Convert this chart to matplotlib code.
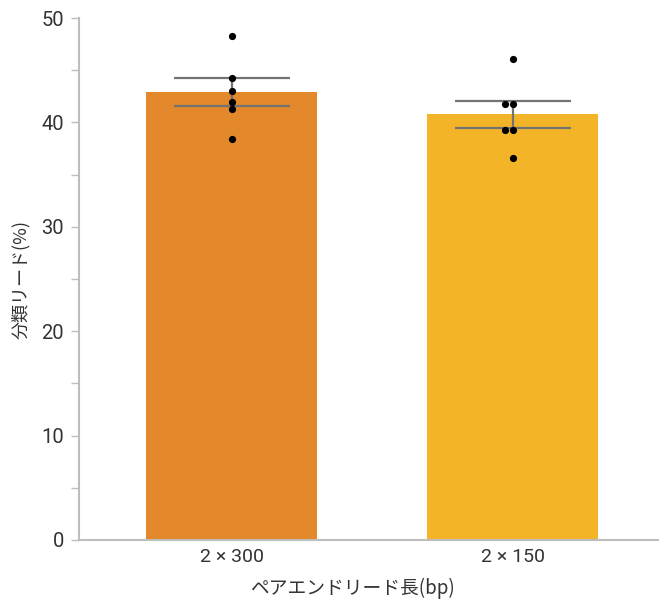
import matplotlib
matplotlib.use("Agg")
import matplotlib.pyplot as plt
from matplotlib.ticker import MultipleLocator
import numpy as np
import pandas as pd
import seaborn as sns

plt.rcParams['font.family'] = ['Noto Sans CJK JP', 'DejaVu Sans']

categories = ["2 × 300", "2 × 150"]
points_300 = [48.3, 44.3, 43.0, 42.0, 41.3, 38.4]
points_150 = [46.1, 41.75, 41.75, 39.25, 39.25, 36.6]
bar_colors = ["#E3892B", "#F3B428"]
y_label = "分類リード(%)"
x_label = "ペアエンドリード長(bp)"

series = [points_300, points_150]
means = [np.mean(s) for s in series]
sems = [np.std(s, ddof=1) / np.sqrt(len(s)) for s in series]

fig = plt.figure(figsize=(6.59, 6.03), dpi=100)
ax = fig.add_axes([0.12, 0.1045, 0.88, 0.8655])

x = np.arange(len(categories))
ax.bar(x, means, width=0.61, color=bar_colors, zorder=2)
ax.errorbar(x, means, yerr=sems, fmt='none', ecolor='#737373', elinewidth=1.6,
            capsize=41.5, capthick=1.6, zorder=3)

df = pd.DataFrame({
    "cat": np.repeat(categories, [len(s) for s in series]),
    "val": np.concatenate(series),
})
sns.swarmplot(data=df, x="cat", y="val", order=categories, color="black",
              size=5.2, ax=ax, zorder=5)

ax.set_xlim(-0.543, 1.521)
ax.set_ylim(0, 50)
ax.yaxis.set_major_locator(MultipleLocator(10))
ax.yaxis.set_minor_locator(MultipleLocator(5))
ax.set_xticks(x)
ax.set_xticklabels(categories)

tick_font = ['Roboto', 'DejaVu Sans']
for lab in ax.get_xticklabels() + ax.get_yticklabels():
    lab.set_family(tick_font)
    lab.set_fontweight('normal')

for s in ["top", "right"]:
    ax.spines[s].set_visible(False)
for s in ["left", "bottom"]:
    ax.spines[s].set_color("#BDBDBD")
    ax.spines[s].set_linewidth(1.5)

ax.tick_params(axis='y', which='both', length=6, width=1.0, color="#BDBDBD",
               labelsize=14.5, labelcolor="#333333", pad=5)
ax.tick_params(axis='x', length=0, labelsize=14, labelcolor="#333333", pad=6)

ax.set_ylabel(y_label, fontsize=13, color="#333333")
ax.set_xlabel(x_label, fontsize=13.5, color="#333333")
ax.yaxis.set_label_coords(-0.085, 0.5)
ax.xaxis.set_label_coords(0.472, -0.073)

fig.savefig("out.png", dpi=100)
